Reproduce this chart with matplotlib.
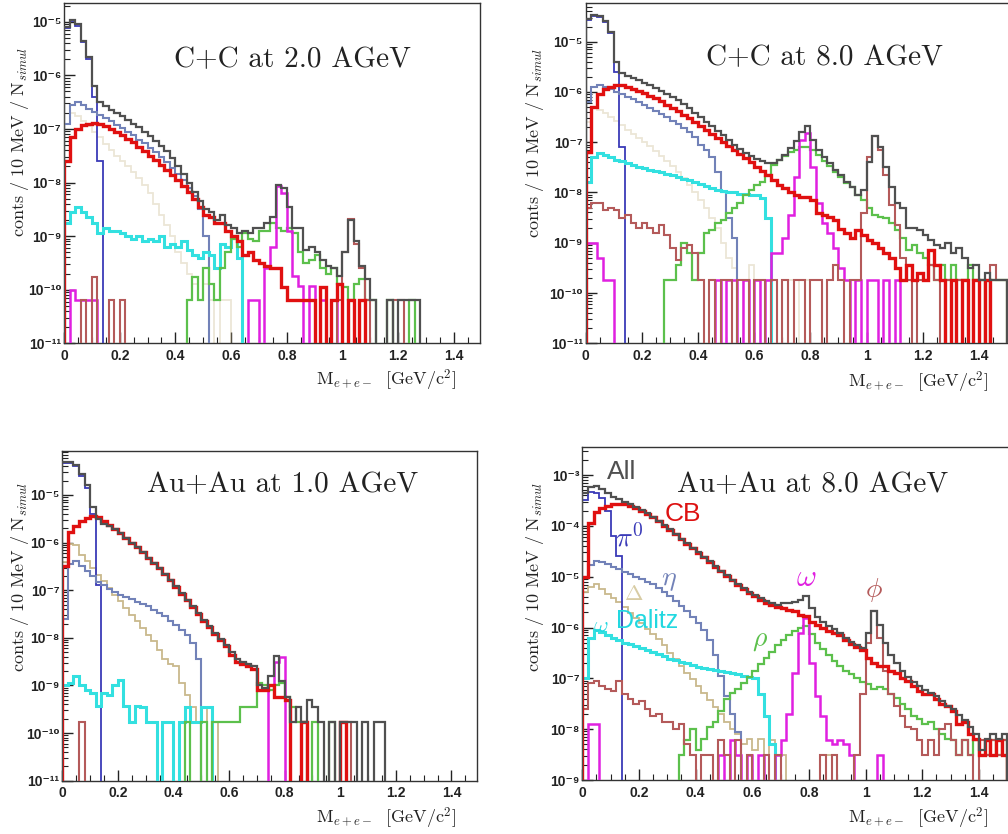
#!/usr/bin/env python3
"""Dielectron invariant-mass cocktails: four systems, ROOT-style step histograms."""

import matplotlib

matplotlib.use("Agg")
import matplotlib.pyplot as plt
import numpy as np
from matplotlib.ticker import FixedLocator, FuncFormatter, MultipleLocator, NullFormatter

W, H = 1008, 834
N = None  # empty bin
BIN_WIDTH = 0.02
N_BINS = 75
FLOOR = 1e-20

# ---- values are log10(counts / 10 MeV / N_simul), one entry per 20 MeV bin from 0 ----

# C+C at 2.0 AGeV
cc2_all = [-5.1, -4.96, -5.05, -5.35, -5.65, -6.2, -6.5, -6.58, -6.64, -6.7,
           -6.76, -6.83, -6.9, -6.97, -7.05, -7.13, -7.22, -7.32, -7.42, -7.55,
           -7.7, -7.85, -8.0, -8.18, -8.35, -8.5, -8.55, -8.7, -8.6, -8.8,
           -8.85, -8.95, -8.9, -8.95, -8.85, -8.85, -8.75, -8.65, -8.05, -8.1,
           -8.45, -8.85, -8.85, -9.25, -9.2, -9.3, -9.45, -9.55, -9.6, -9.75,
           -9.3, -8.7, -9.1, -9.55, -9.8, -10.2, N, N, -10.2, N,
           -10.2, -10.2, -10.2, -10.2]
cc2_cb = [-7.6, -7.15, -7.0, -6.93, -6.9, -6.88, -6.9, -6.95, -7.0, -7.06,
          -7.12, -7.18, -7.25, -7.33, -7.41, -7.5, -7.58, -7.67, -7.76, -7.86,
          -7.96, -8.06, -8.17, -8.3, -8.45, -8.6, -8.65, -8.75, -8.75, -8.9,
          -9.0, -9.1, -9.35, -9.3, -9.45, -9.5, -9.55, -9.6, -9.6, -9.95,
          -10.2, -10.2, -10.2, -10.2, -10.2, N, -9.95, N, -10.2, -9.9,
          N, -10.2, N, -10.2]
cc2_pi0 = [-5.12, -4.98, -5.07, -5.37, -5.7, -6.4, -7.6]
cc2_eta = [-6.9, -6.55, -6.5, -6.55, -6.62, -6.68, -6.74, -6.8, -6.86, -6.92,
           -6.98, -7.05, -7.12, -7.2, -7.27, -7.35, -7.43, -7.52, -7.62, -7.72,
           -7.84, -7.96, -8.1, -8.25, -8.5, -9.0]
cc2_delta = [-6.9, -6.7, -6.75, -6.85, -6.95, -7.05, -7.15, -7.28, -7.4, -7.5,
             -7.6, -7.7, -7.8, -7.92, -8.05, -8.2, -8.4, -8.6, -8.8, -9.0,
             -9.3, -9.5, -9.7, -9.9, -10.2, -9.9, -10.2, N, -10.2, -10.2]
cc2_omd = [-8.75, -8.55, -8.45, -8.55, -8.65, -8.75, -8.95, -8.85, -8.9, -8.9,
           -8.95, -9.0, -9.05, -9.0, -9.1, -9.05, -9.1, -9.0, -9.2, -9.15,
           -9.2, -9.1, -9.25, -9.35, -9.4, -9.3, -9.35, -9.6, -9.15, -9.2,
           -9.0, -9.4]
cc2_rho = [N] * 22 + [-10.2, -9.76, -10.2, -9.6, -9.9, -10.2, -9.6, -9.3,
                      -9.05, -9.2, -8.95, -9.05, -9.1, -8.9, -8.9, -8.75, -8.85, -8.9,
                      -8.85, -8.95, -9.3, -9.5, -9.45, -9.35, -9.6, -9.7, -9.6, -9.9,
                      -9.95, -10.2, -9.9, -9.8, -10.2, -10.2, N, N, -10.2, N,
                      N, N, -10.2]
cc2_omega = [N, -10.0, -10.2, -10.2, -10.2, -10.2] + [N] * 27 + [
    -10.2, -10.2, N, -9.6, -9.2, -8.06, -8.2, -8.9, -9.75, -9.94,
    N, -9.94, N, -10.2, N, -10.2]
cc2_phi = [N, N, N, -10.2, N, -9.76, N, N, -10.2, N, -10.2] + [N] * 38 + [
    -10.2, -9.3, -8.68, -9.15, -9.6, -10.2, N, N, N, N, -10.2, -10.2]

# C+C at 8.0 AGeV
cc8_all = [-4.55, -4.47, -4.48, -4.58, -4.8, -5.4, -5.62, -5.68, -5.72, -5.77,
           -5.82, -5.87, -5.92, -5.98, -6.04, -6.1, -6.17, -6.24, -6.32, -6.41,
           -6.5, -6.59, -6.68, -6.77, -6.86, -6.95, -7.05, -7.14, -7.22, -7.28,
           -7.33, -7.38, -7.42, -7.42, -7.35, -7.25, -7.12, -6.98, -6.8, -6.68,
           -6.95, -7.15, -7.3, -7.42, -7.55, -7.65, -7.8, -7.9, -8.05, -7.95,
           -7.4, -6.88, -7.1, -7.5, -7.9, -8.2, -8.3, -8.7, -8.7, -8.75,
           -8.85, -8.95, -9.05, -9.1, -9.0, -9.2, -9.1, -9.3, -9.5, -9.45,
           -9.74, -9.6, -9.74, -9.74, -9.74]
cc8_cb = [-7.2, -6.3, -6.05, -5.95, -5.9, -5.87, -5.87, -5.9, -5.94, -5.98,
          -6.03, -6.08, -6.13, -6.19, -6.25, -6.31, -6.38, -6.45, -6.52, -6.6,
          -6.68, -6.76, -6.84, -6.92, -7.0, -7.08, -7.16, -7.24, -7.32, -7.4,
          -7.5, -7.58, -7.66, -7.75, -7.85, -7.92, -8.0, -8.05, -8.08, -8.08,
          -8.15, -8.4, -8.45, -8.48, -8.55, -8.72, -8.8, -8.9, -8.75, -8.85,
          -8.95, -9.0, -9.1, -9.2, -9.3, -9.5, -9.75, -9.45, -9.75, -9.6,
          -9.75, -9.15, -9.45, -9.75, N, -9.75, N, -9.75, N, -9.75,
          N, -9.75]
cc8_pi0 = [-4.57, -4.49, -4.5, -4.6, -4.83, -5.6, -7.1]
cc8_eta = [-6.2, -5.9, -5.86, -5.9, -5.95, -6.0, -6.05, -6.1, -6.15, -6.2,
           -6.26, -6.32, -6.38, -6.44, -6.5, -6.57, -6.64, -6.72, -6.8, -6.9,
           -7.05, -7.15, -7.3, -7.6, -8.0, -8.5, -8.9]
cc8_delta = [-6.6, -6.3, -6.35, -6.42, -6.5, -6.58, -6.66, -6.75, -6.83, -6.91,
             -7.0, -7.08, -7.17, -7.27, -7.37, -7.48, -7.6, -7.72, -7.85, -8.0,
             -8.15, -8.3, -8.5, -8.7, -9.0, -9.3, -9.5, -9.75, N, -9.45,
             -9.75, N, -9.75, N, N, N, -9.75, -9.75, N, -9.75]
cc8_omd = [-7.8, -7.3, -7.22, -7.25, -7.3, -7.35, -7.38, -7.42, -7.46, -7.5,
           -7.52, -7.55, -7.57, -7.6, -7.63, -7.66, -7.7, -7.73, -7.76, -7.8,
           -7.83, -7.88, -7.92, -7.95, -7.98, -8.0, -8.0, -8.03, -8.03, -8.05,
           -8.05, -8.1, -8.5]
cc8_rho = [N] * 14 + [-9.75, -9.75, -9.45, -9.0, -9.2, -9.75,
                      -9.2, -8.8, -8.75, -8.6, -8.55, -8.4, -8.3, -8.2, -8.05, -7.95,
                      -7.85, -7.8, -7.65, -7.45, -7.35, -7.28, -7.2, -7.15, -7.1, -7.1,
                      -7.15, -7.25, -7.38, -7.48, -7.6, -7.7, -7.82, -7.9, -8.05, -8.15,
                      -8.3, -8.45, -8.48, -8.5, -8.6, -8.75, -8.9, -9.15, -9.05, -9.2,
                      -9.3, -9.45, -9.75, -9.45, -9.75, -9.45, -9.75, -9.75, -9.45, -9.75,
                      -9.75, N, -9.75, -9.75, -9.75]
cc8_omega = [-9.0, -9.0, -9.3, -9.75, -9.75] + [N] * 18 + [
    -9.75, N, -9.75, -9.75, N, -9.75, N, -9.75, N, -9.75,
    -9.2, -9.2, -8.9, -8.45, -7.7, -6.95, -6.82, -7.5, -8.2, -8.6,
    -8.8, -9.1, -9.5, -9.75, N, -9.75, N, -9.75, -9.75, N,
    -9.75, N, -9.75]
cc8_phi = [-8.3, -8.2, -8.2, -8.35, -8.3, -8.35, -8.5, -8.45, -8.6, -8.7,
           -8.6, -8.7, -8.8, -8.65, -8.85, -9.1, -9.35, -9.1, -9.05, -9.2,
           -9.75, N, -9.75, N, -9.75, -9.75, N, -9.75, -9.75, N,
           -9.75, -9.75, N, -9.75, N, -9.75, N, -9.75, -9.75, N,
           -9.75, -9.75, N, -9.75, -9.45, -9.75, N, -9.75, -9.75, -8.4,
           -7.3, -6.88, -7.15, -7.65, -8.25, -8.65, -9.3, -9.75, N, -9.75,
           -9.75, -9.45, -9.75, N, -9.75, N, -9.75, -9.75, N, -9.75,
           -9.75, N, -9.45, -9.75, -9.75]

# Au+Au at 1.0 AGeV
au1_all = [-4.3, -4.3, -4.37, -4.55, -4.8, -5.25, -5.5, -5.6, -5.65, -5.72,
           -5.8, -5.9, -6.0, -6.1, -6.2, -6.32, -6.42, -6.53, -6.65, -6.78,
           -6.92, -7.06, -7.2, -7.34, -7.48, -7.62, -7.76, -7.9, -8.02, -8.15,
           -8.3, -8.45, -8.5, -8.55, -8.6, -9.0, -9.05, -8.8, -8.38, -8.9,
           -9.25, -9.76, -9.46, -9.76, -9.3, -9.46, -9.76, N, -9.76, N,
           -9.76, -9.76, -9.76, N, -9.76, N, -9.76, -9.76]
au1_cb = [-6.5, -5.78, -5.66, -5.55, -5.48, -5.45, -5.47, -5.55, -5.63, -5.71,
          -5.8, -5.9, -6.0, -6.1, -6.2, -6.32, -6.43, -6.54, -6.66, -6.79,
          -6.93, -7.07, -7.21, -7.35, -7.5, -7.64, -7.78, -7.92, -8.05, -8.18,
          -8.35, -8.5, -8.55, -8.6, -8.65, -9.1, -9.1, -9.0, -9.25, -9.25,
          -9.3, N, N, -9.76, N, N, N, N, N, N,
          -9.76]
au1_pi0 = [-4.32, -4.32, -4.4, -4.6, -4.85, -5.4, -6.9]
au1_eta = [-7.6, -6.45, -6.38, -6.5, -6.6, -6.7, -6.82, -6.9, -6.97, -7.04,
           -7.09, -7.14, -7.19, -7.24, -7.29, -7.34, -7.41, -7.48, -7.55, -7.64,
           -7.73, -7.83, -7.95, -8.1, -8.45]
au1_delta = [-6.4, -6.02, -6.05, -6.25, -6.39, -6.53, -6.67, -6.81, -6.95, -7.09,
             -7.23, -7.37, -7.51, -7.65, -7.79, -7.93, -8.07, -8.25, -8.45, -8.55,
             -8.6, -8.95, -9.2, -9.46, -9.76, N, -9.46, -9.76]
au1_omd = [-9.0, -8.95, -8.8, -9.0, -9.1, -9.15, -9.44, -9.15, -9.2, -9.0,
           -8.88, -9.44, -9.76, -9.44, -9.46, -9.76, -9.76, N, -9.76, -9.76,
           N, -9.76, -9.46, -9.76, -9.76, -9.46, -9.46]
au1_rho = [N] * 22 + [-9.76, N, N, -9.76, N, -9.76, -9.76, -9.76,
                      -9.76, -9.76, -9.46, -9.46, -9.46, -8.95, -9.0, -9.1, -9.0, -8.95,
                      -9.25, -9.46, -9.76, -9.76, N, -9.76, N, N, -9.76]
au1_omega = [N] * 37 + [-9.0, -8.5, -8.4]
au1_phi = [N, N, N, -9.76] + [N] * 46 + [-9.76, -9.76]

# Au+Au at 8.0 AGeV
au8_all = [-3.35, -3.23, -3.22, -3.28, -3.36, -3.43, -3.48, -3.53, -3.58, -3.63,
           -3.69, -3.75, -3.82, -3.9, -3.99, -4.07, -4.16, -4.25, -4.34, -4.43,
           -4.52, -4.61, -4.7, -4.79, -4.88, -4.97, -5.06, -5.15, -5.22, -5.3,
           -5.36, -5.42, -5.48, -5.52, -5.55, -5.52, -5.52, -5.5, -5.45, -5.38,
           -5.62, -5.8, -5.9, -5.97, -6.03, -6.1, -6.2, -6.28, -6.35, -6.4,
           -6.1, -5.68, -5.95, -6.3, -6.55, -6.7, -6.85, -6.98, -7.08, -7.15,
           -7.22, -7.28, -7.35, -7.45, -7.55, -7.6, -7.72, -7.82, -7.95, -8.1,
           -8.4, -8.2, -8.1, -8.2, -8.1]
au8_cb = [-5.0, -3.95, -3.72, -3.64, -3.6, -3.57, -3.57, -3.58, -3.61, -3.65,
          -3.7, -3.76, -3.83, -3.91, -4.0, -4.08, -4.17, -4.26, -4.35, -4.44,
          -4.53, -4.62, -4.71, -4.8, -4.89, -4.98, -5.07, -5.16, -5.24, -5.32,
          -5.39, -5.46, -5.52, -5.56, -5.6, -5.62, -5.65, -5.68, -5.75, -5.78,
          -5.9, -5.95, -6.0, -6.06, -6.1, -6.15, -6.25, -6.32, -6.38, -6.45,
          -6.6, -6.7, -6.75, -6.75, -6.85, -6.9, -7.0, -7.05, -7.15, -7.25,
          -7.3, -7.3, -7.4, -7.5, -7.55, -7.65, -7.9, -7.85, -8.1, -8.2,
          -8.51, -8.21, -8.51, -8.21, -8.51]
au8_pi0 = [-3.5, -3.33, -3.35, -3.45, -3.7, -4.2, -4.6]
au8_eta = [-5.0, -4.78, -4.7, -4.72, -4.76, -4.8, -4.85, -4.9, -4.95, -5.0,
           -5.05, -5.1, -5.15, -5.22, -5.3, -5.38, -5.48, -5.58, -5.68, -5.8,
           -5.92, -6.05, -6.25, -6.55, -6.95, -7.35, -7.7, -8.05]
au8_delta = [-5.3, -5.2, -5.15, -5.25, -5.35, -5.42, -5.5, -5.6, -5.72, -5.82,
             -5.92, -6.02, -6.12, -6.22, -6.35, -6.5, -6.62, -6.76, -6.9, -7.02,
             -7.15, -7.28, -7.42, -7.56, -7.7, -7.85, -8.0, -8.1, -8.3, -8.2,
             -8.4, -8.2, -8.51, -8.21, N, -8.51, N, N, N, N,
             N, N, -8.51, -8.51, -8.51]
au8_omd = [-7.0, -6.2, -6.05, -6.08, -6.15, -6.2, -6.25, -6.3, -6.33, -6.37,
           -6.41, -6.45, -6.49, -6.53, -6.57, -6.61, -6.64, -6.67, -6.7, -6.73,
           -6.77, -6.8, -6.82, -6.84, -6.86, -6.88, -6.9, -6.92, -6.95, -6.97,
           -7.0, -7.3, -7.75, -8.3]
au8_rho = [N] * 17 + [-8.51, -8.21, -8.0,
                      -8.4, -8.2, -7.95, -7.85, -7.65, -7.4, -7.28, -7.2, -7.1, -6.98,
                      -6.85, -6.72, -6.6, -6.48, -6.35, -6.25, -6.15, -6.06, -6.0, -5.98,
                      -6.12, -6.3, -6.42, -6.55, -6.65, -6.75, -6.85, -6.92, -7.0, -7.08,
                      -7.12, -7.2, -7.18, -7.2, -7.3, -7.38, -7.5, -7.6, -7.75, -7.8,
                      -7.9, -7.85, -8.0, -8.1, -8.2, -8.21, -8.51, -8.21, -8.51, -8.21,
                      -8.51, -8.51, -8.21, -8.51, -8.21]
au8_omega = [N, -7.9, -7.9] + [N] * 21 + [
    -8.51, N, -8.21, -8.51, N, -8.51, N, -8.51, N, N,
    -8.51, -8.21, -7.7, -6.9, -6.1, -5.82, -6.7, -7.35, -7.75, -8.21,
    -8.3, -8.21, -8.3, -8.51, N, N, N, N, -8.51]
au8_phi = [-7.6, -7.1, -7.05, -7.15, -7.2, -7.25, -7.05, -7.3, -7.4, -7.5,
           -7.45, -7.6, -7.75, -7.7, -7.85, -7.85, -8.0, -7.9, -8.3, -8.51,
           N, -8.51, -8.51, N, -8.21, -8.51, N, -8.21, N, -8.51,
           N, N, -8.51, N, -8.51, N, N, N, N, N,
           N, N, -8.51, N, -8.51, N, N, N, -8.51, -7.3,
           -6.3, -5.68, -6.2, -6.85, -7.3, -7.55, -7.75, -7.95, -8.0, -8.21,
           -8.51, -8.21, -8.51, -8.0, -7.9, -8.21, -8.51, -8.21, -8.51, N,
           -8.21, -8.51, -8.21, -8.51, -8.21]

titles = ["C+C at 2.0 AGeV", "C+C at 8.0 AGeV", "Au+Au at 1.0 AGeV", "Au+Au at 8.0 AGeV"]

# colour, line width, zorder per component
STYLE = {
    "delta": ("#c9b98c", 1.3, 2),
    "rho": ("#5cc04c", 1.6, 3),
    "omd": ("#33e0e0", 2.2, 3),
    "eta": ("#7282b8", 1.5, 3),
    "pi0": ("#3a3ab8", 1.3, 3),
    "omega": ("#e020e0", 1.8, 3),
    "phi": ("#b45a5a", 1.5, 3),
    "cb": ("#e01010", 2.4, 4),
    "all": ("#505050", 1.6, 5),
}

SUP = str.maketrans("-0123456789", "\u207b\u2070\u00b9\u00b2\u00b3\u2074\u2075\u2076\u2077\u2078\u2079")


def px_rect(left, top, right, bottom):
    return [left / W, 1 - bottom / H, (right - left) / W, (bottom - top) / H]


def fig_xy(x, y):
    return x / W, 1 - y / H


def to_counts(logs):
    vals = [FLOOR if v is None else 10.0 ** v for v in logs]
    vals = vals[:N_BINS] + [FLOOR] * (N_BINS - len(vals))
    return np.array(vals)


def decade_label(value, pos):
    exp = int(round(np.log10(value)))
    return "10" + str(exp).translate(SUP)


def style_axes(ax, xmax, ymin, ymax):
    ax.set_yscale("log")
    ax.set_xlim(0, xmax)
    ax.set_ylim(ymin, ymax)
    lo, hi = int(np.ceil(np.log10(ymin) - 1e-9)), int(np.floor(np.log10(ymax)))
    decades = [10.0 ** e for e in range(lo, hi + 1)]
    minors = [m * 10.0 ** e for e in range(lo, hi + 1) for m in range(2, 10)
              if m * 10.0 ** e < ymax]
    ax.xaxis.set_major_locator(MultipleLocator(0.2))
    ax.xaxis.set_minor_locator(MultipleLocator(0.05))
    ax.xaxis.set_major_formatter(FuncFormatter(lambda v, p: f"{v:g}"))
    ax.yaxis.set_major_locator(FixedLocator(decades))
    ax.yaxis.set_minor_locator(FixedLocator(minors))
    ax.yaxis.set_major_formatter(FuncFormatter(decade_label))
    ax.yaxis.set_minor_formatter(NullFormatter())
    ax.tick_params(which="both", direction="in", top=False, right=False, colors="#222222")
    ax.tick_params(which="major", length=8, width=1.0, labelsize=10)
    ax.tick_params(which="minor", length=4, width=0.8)
    ax.tick_params(axis="y", pad=2)
    ax.tick_params(axis="x", pad=4)
    for spine in ax.spines.values():
        spine.set_color("#333333")
        spine.set_linewidth(1.0)


def main() -> None:
    plt.rcParams["font.family"] = ["Liberation Sans", "DejaVu Sans"]
    plt.rcParams["font.weight"] = "bold"
    plt.rcParams["mathtext.fontset"] = "cm"

    fig = plt.figure(figsize=(W / 100, H / 100), dpi=100)
    edges = np.arange(N_BINS + 1) * BIN_WIDTH

    panels = [
        {"rect": px_rect(64, 3, 480, 343.3), "xmax": 1.494, "ylim": (1e-11, 10 ** -4.65),
         "title_xy": (292, 60), "ylabel_xy": (20, 142), "xlabel_xy": (456, 380), "faint": True,
         "series": {"all": cc2_all, "cb": cc2_cb, "pi0": cc2_pi0, "eta": cc2_eta, "delta": cc2_delta,
                    "omd": cc2_omd, "rho": cc2_rho, "omega": cc2_omega, "phi": cc2_phi}},
        {"rect": px_rect(585.7, 2.7, 1016, 343.3), "xmax": 1.532, "ylim": (1e-11, 10 ** -4.225),
         "title_xy": (825, 58), "ylabel_xy": (535, 143), "xlabel_xy": (988, 382), "faint": True,
         "series": {"all": cc8_all, "cb": cc8_cb, "pi0": cc8_pi0, "eta": cc8_eta, "delta": cc8_delta,
                    "omd": cc8_omd, "rho": cc8_rho, "omega": cc8_omega, "phi": cc8_phi}},
        {"rect": px_rect(62.3, 450.7, 477, 780.7), "xmax": 1.492, "ylim": (1e-11, 10 ** -4.07),
         "title_xy": (283, 485), "ylabel_xy": (20, 577), "xlabel_xy": (456, 818), "faint": False,
         "series": {"all": au1_all, "cb": au1_cb, "pi0": au1_pi0, "eta": au1_eta, "delta": au1_delta,
                    "omd": au1_omd, "rho": au1_rho, "omega": au1_omega, "phi": au1_phi}},
        {"rect": px_rect(582.3, 447.3, 1016, 780), "xmax": 1.531, "ylim": (1e-9, 10 ** -2.455),
         "title_xy": (813, 485), "ylabel_xy": (535, 577), "xlabel_xy": (988, 818), "faint": False,
         "series": {"all": au8_all, "cb": au8_cb, "pi0": au8_pi0, "eta": au8_eta, "delta": au8_delta,
                    "omd": au8_omd, "rho": au8_rho, "omega": au8_omega, "phi": au8_phi}},
    ]

    for title, panel in zip(titles, panels):
        ax = fig.add_axes(panel["rect"])
        for name, logs in panel["series"].items():
            color, lw, z = STYLE[name]
            alpha = 0.35 if (name == "delta" and panel["faint"]) else 1.0
            ax.stairs(to_counts(logs), edges, baseline=FLOOR, color=color,
                      linewidth=lw, zorder=z, alpha=alpha)
        style_axes(ax, panel["xmax"], *panel["ylim"])

        fig.text(*fig_xy(*panel["title_xy"]), title, fontfamily="cmr10", fontweight="normal",
                 fontsize=21, ha="center", va="center", color="#222222")
        fig.text(*fig_xy(*panel["ylabel_xy"]), r"$\mathrm{conts\ /\ 10\ MeV\ /\ N}_{simul}$",
                 rotation=90, fontsize=13, ha="center", va="center", color="#222222")
        fig.text(*fig_xy(*panel["xlabel_xy"]), r"$\mathrm{M}_{e+e-}\ \ \mathrm{[GeV/c}^{2}\mathrm{]}$",
                 fontsize=13, ha="right", va="center", color="#222222")

    # component labels of the Au+Au 8.0 AGeV panel
    labels = [
        ("All", (622, 472), "#505050", 19),
        ("CB", (683, 514), "#dd1111", 19),
        (r"$\pi^{0}$", (629, 538), "#3a3ab8", 20),
        (r"$\eta$", (669, 580), "#7282b8", 20),
        (r"$\Delta$", (634, 595), "#d8cca4", 16),
        (r"$\omega$", (601, 627), "#22d8e0", 16),
        ("Dalitz", (647, 621), "#22d8e0", 18),
        (r"$\rho$", (760, 640), "#5cc04c", 20),
        (r"$\omega$", (806, 578), "#e020e0", 22),
        (r"$\phi$", (874, 590), "#b45a5a", 20),
    ]
    for text, (x, y), color, size in labels:
        fig.text(*fig_xy(x, y), text, color=color, fontsize=size, ha="center", va="center",
                 fontweight="normal")

    fig.savefig("out.png", dpi=100)
    plt.close(fig)


if __name__ == "__main__":
    main()
